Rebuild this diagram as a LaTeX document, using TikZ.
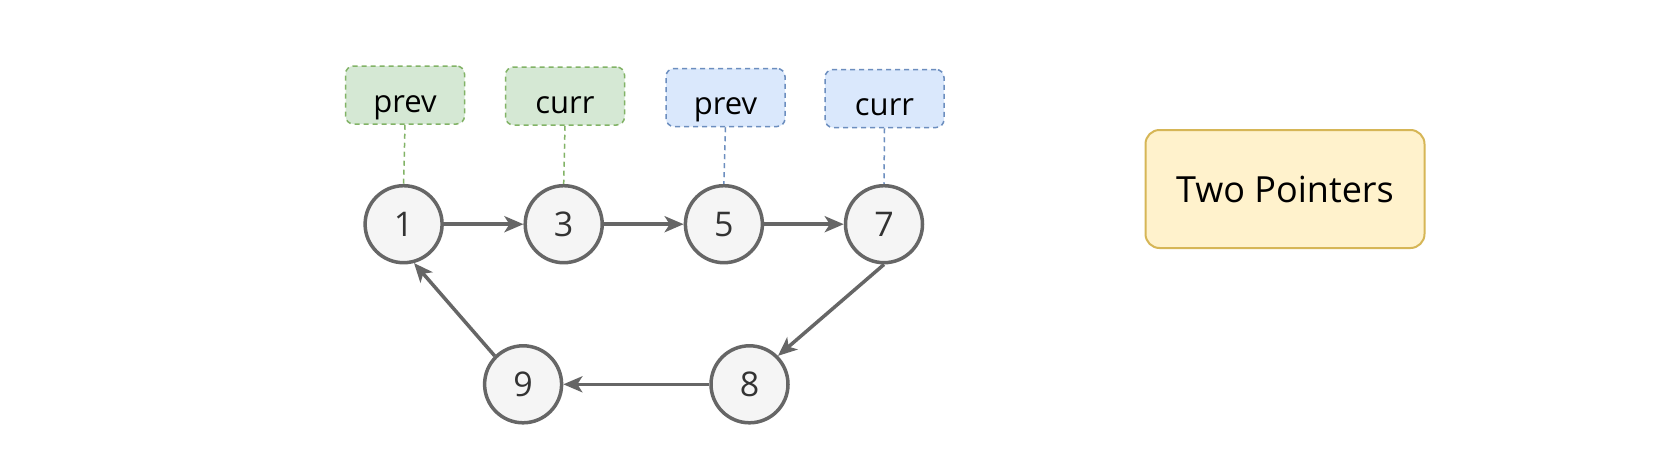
\documentclass[tikz,border=0pt]{standalone}
\usepackage{fontspec}
\setmainfont{Open Sans}
\usetikzlibrary{arrows.meta}
\definecolor{cfill}{HTML}{F5F5F5}
\definecolor{cline}{HTML}{666666}
\definecolor{ctext}{HTML}{333333}
\definecolor{gfill}{HTML}{D5E8D4}
\definecolor{gline}{HTML}{82B366}
\definecolor{bfill}{HTML}{DAE8FC}
\definecolor{bline}{HTML}{6C8EBF}
\definecolor{yfill}{HTML}{FFF2CC}
\definecolor{yline}{HTML}{D6B656}
\tikzset{
  listnode/.style={circle, minimum size=77pt, inner sep=0pt, line width=3.5pt, draw=cline, fill=cfill, text=ctext, font=\fontsize{34}{38}\selectfont},
  ptrbox/.style={rectangle, rounded corners=8pt, minimum width=119pt, minimum height=58pt, inner sep=0pt, text height=38pt, text depth=4pt, line width=1.5pt, dash pattern=on 5pt off 4pt, font=\fontsize{31}{36}\selectfont},
  gbox/.style={ptrbox, draw=gline, fill=gfill},
  bbox/.style={ptrbox, draw=bline, fill=bfill},
  link/.style={line width=3.5pt, draw=cline, -{Stealth[length=19pt,width=16pt,inset=5pt]}},
  gdash/.style={line width=1.5pt, draw=gline, dash pattern=on 5pt off 4pt},
  bdash/.style={line width=1.5pt, draw=bline, dash pattern=on 5pt off 4pt},
  titlebox/.style={rectangle, rounded corners=14pt, minimum width=279pt, minimum height=118pt, line width=2pt, draw=yline, fill=yfill, font=\fontsize{36}{42}\selectfont}
}
\begin{document}
\begin{tikzpicture}[x=1pt,y=-1pt]
\useasboundingbox[fill=white] (0,0) rectangle (1674,450);
\node[listnode] (n1) at (403.6,224.2) {1};
\node[listnode] (n3) at (563.7,224.2) {3};
\node[listnode] (n5) at (723.9,224.2) {5};
\node[listnode] (n7) at (884.0,224.2) {7};
\node[listnode] (n9) at (523.1,384.3) {9};
\node[listnode] (n8) at (749.5,384.3) {8};
\node[gbox] (p1) at (405,95) {prev};
\node[gbox] (c1) at (565,96) {curr};
\node[bbox] (p2) at (725.5,97.5) {prev};
\node[bbox] (c2) at (884.5,98.5) {curr};
\node[titlebox] (tp) at (1285,189) {Two Pointers};
\draw[gdash] (p1.south) -- (n1.north);
\draw[gdash] (c1.south) -- (n3.north);
\draw[bdash] (p2.south) -- (n5.north);
\draw[bdash] (c2.south) -- (n7.north);
\draw[link] (n1.east) -- (n3.west);
\draw[link] (n3.east) -- (n5.west);
\draw[link] (n5.east) -- (n7.west);
\draw[link] (n7.south) -- (n8.45);
\draw[link] (n8.west) -- (n9.east);
\draw[link] (n9.135) -- (n1.-75);
\end{tikzpicture}
\end{document}
